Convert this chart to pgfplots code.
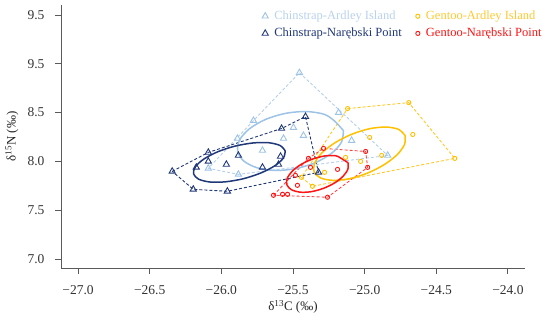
\documentclass[border=0pt]{standalone}
\usepackage{pgfplots}
\pgfplotsset{compat=1.18}
\usepackage{fontspec}
\setmainfont{Liberation Serif}
\definecolor{cab}{RGB}{157,195,230}
\definecolor{cabl}{RGB}{180,208,236}
\definecolor{cabtxt}{RGB}{185,210,238}
\definecolor{cnp}{RGB}{32,56,120}
\definecolor{gab}{RGB}{255,192,0}
\definecolor{gabl}{RGB}{255,200,40}
\definecolor{gabtxt}{RGB}{255,200,50}
\definecolor{gnp}{RGB}{255,20,20}
\definecolor{gnpl}{RGB}{255,70,70}
\definecolor{axgray}{RGB}{90,90,90}
\begin{document}
\begin{tikzpicture}
\useasboundingbox (0pt,0pt) rectangle (550pt,325pt);
\begin{axis}[
  at={(61pt,57pt)}, anchor=south west,
  width=464pt, height=263pt, scale only axis,
  xmin=-27.119, xmax=-23.881, ymin=6.908, ymax=9.602,
  axis lines=left,
  axis line style={-, draw=axgray, line width=0.9pt},
  tick style={draw=axgray, line width=0.9pt},
  tick align=outside, major tick length=6pt,
  xtick={-27,-26.5,-26,-25.5,-25,-24.5,-24},
  xticklabels={−27.0,−26.5,−26.0,−25.5,−25.0,−24.5,−24.0},
  ytick={7,7.5,8,8.5,9,9.5},
  yticklabels={7.0,7.5,8.0,8.5,9.5,9.5},
  ticklabel style={font=\fontsize{13.5}{15}\selectfont, text=black!80},
  xticklabel style={yshift=-8pt},
  yticklabel style={xshift=-7pt},
  xlabel={δ\textsuperscript{13}C (‰)},
  ylabel={δ\textsuperscript{15}N (‰)},
  every axis y label/.style={at={(axis description cs:-0.106,0.5)}, rotate=90, anchor=center},
  every axis x label/.style={at={(axis description cs:0.5,-0.148)}, anchor=center},
  label style={font=\fontsize{13}{15}\selectfont, text=black!85},
  legend columns=2,
  legend cell align=left,
  legend style={draw=none, fill=none, at={(axis description cs:0.433,0.985)}, anchor=north west,
    font=\fontsize{12.5}{14}\selectfont, row sep=3pt, inner sep=0pt,
    /tikz/every odd column/.append style={column sep=4pt},
    /tikz/every even column/.append style={column sep=12pt}},
]
% ---- hulls (dashed) ----
\addplot[forget plot, cabl, dash pattern=on 3pt off 2pt, line width=0.9pt] coordinates {
(-25.455,8.908) (-24.839,8.061) (-25.881,7.867) (-26.091,7.929) (-25.776,8.418) (-25.455,8.908)};
\addplot[forget plot, gabl, dash pattern=on 3pt off 2pt, line width=0.9pt] coordinates {
(-25.119,8.541) (-24.692,8.602) (-24.371,8.031) (-25.364,7.745) (-25.441,7.837) (-25.119,8.541)};
\addplot[forget plot, cnp, dash pattern=on 3pt off 2pt, line width=0.9pt] coordinates {
(-26.343,7.898) (-26.091,8.092) (-25.580,8.337) (-25.413,8.459) (-25.322,7.888) (-25.958,7.694) (-26.196,7.714) (-26.343,7.898)};
\addplot[forget plot, gnpl, dash pattern=on 3pt off 2pt, line width=0.9pt] coordinates {
(-25.636,7.653) (-25.392,8.031) (-25.287,8.133) (-24.993,8.102) (-24.979,7.939) (-25.259,7.633) (-25.636,7.653)};
% ---- ellipses ----
\addplot[forget plot, smooth, cab, line width=1.5pt] coordinates {
(-25.148,8.315) (-25.161,8.199) (-25.229,8.085) (-25.341,7.989) (-25.479,7.927) (-25.623,7.907) (-25.751,7.935) (-25.843,8.003)
(-25.886,8.103) (-25.873,8.219) (-25.805,8.333) (-25.693,8.429) (-25.555,8.491) (-25.411,8.511) (-25.283,8.483) (-25.211,8.415) (-25.148,8.315)};
\addplot[forget plot, smooth, gab, line width=1.5pt] coordinates {
(-24.718,8.266) (-24.721,8.176) (-24.772,8.070) (-24.863,7.967) (-24.980,7.880) (-25.105,7.823) (-25.220,7.806) (-25.307,7.830)
(-25.352,7.892) (-25.349,7.982) (-25.298,8.088) (-25.207,8.191) (-25.090,8.278) (-24.965,8.335) (-24.850,8.352) (-24.763,8.328) (-24.718,8.266)};
\addplot[forget plot, smooth, cnp, line width=1.5pt] coordinates {
(-25.554,8.107) (-25.567,8.034) (-25.627,7.955) (-25.725,7.881) (-25.845,7.823) (-25.970,7.791) (-26.080,7.789) (-26.159,7.818)
(-26.194,7.873) (-26.181,7.946) (-26.121,8.025) (-26.023,8.100) (-25.903,8.157) (-25.778,8.189) (-25.668,8.191) (-25.589,8.162) (-25.554,8.107)};
\addplot[forget plot, smooth, gnp, line width=1.5pt] coordinates {
(-25.116,7.986) (-25.117,7.920) (-25.151,7.847) (-25.212,7.777) (-25.291,7.722) (-25.376,7.689) (-25.453,7.685) (-25.511,7.710)
(-25.542,7.758) (-25.541,7.824) (-25.507,7.897) (-25.446,7.967) (-25.367,8.022) (-25.282,8.055) (-25.205,8.059) (-25.167,8.034) (-25.116,7.986)};
% ---- points ----
\addplot[only marks, mark=triangle, mark size=3.6pt, mark options={draw=cab, fill=none, line width=0.9pt}] coordinates {
(-25.455,8.908) (-25.182,8.500) (-25.497,8.347) (-25.427,8.265) (-25.566,8.235) (-25.776,8.418)
(-25.888,8.235) (-25.713,8.112) (-26.091,7.929) (-25.881,7.867) (-25.091,8.214) (-24.839,8.061)};
\addlegendentry{\textcolor{cabtxt}{Chinstrap-Ardley Island}}
\addplot[only marks, mark=o, mark size=2.1pt, mark options={draw=gab, fill=none, line width=0.9pt}] coordinates {
(-25.119,8.541) (-24.692,8.602) (-24.371,8.031) (-24.664,8.276) (-24.965,8.245) (-24.881,8.061)
(-25.028,8.000) (-25.133,8.041) (-25.280,7.888) (-25.364,7.745) (-25.441,7.837)};
\addlegendentry{\textcolor{gabtxt}{Gentoo-Ardley Island}}
\addplot[only marks, mark=triangle, mark size=3.6pt, mark options={draw=cnp, fill=none, line width=0.9pt}] coordinates {
(-26.343,7.898) (-26.196,7.714) (-25.958,7.694) (-26.091,8.092) (-26.091,8.000) (-26.175,7.939) (-25.965,7.969)
(-25.881,8.061) (-25.713,7.939) (-25.587,8.051) (-25.601,7.969) (-25.580,8.337) (-25.413,8.459) (-25.322,7.888)};
\addlegendentry{\textcolor{cnp}{Chinstrap-Narębski Point}}
\addplot[only marks, mark=o, mark size=2.1pt, mark options={draw=gnp, fill=none, line width=0.9pt}] coordinates {
(-25.287,8.133) (-24.993,8.102) (-24.979,7.939) (-25.189,7.918) (-25.392,8.031) (-25.378,7.939)
(-25.483,7.857) (-25.469,7.755) (-25.636,7.653) (-25.573,7.663) (-25.538,7.663) (-25.259,7.633)};
\addlegendentry{\textcolor{gnp}{Gentoo-Narębski Point}}
\end{axis}
\end{tikzpicture}
\end{document}
